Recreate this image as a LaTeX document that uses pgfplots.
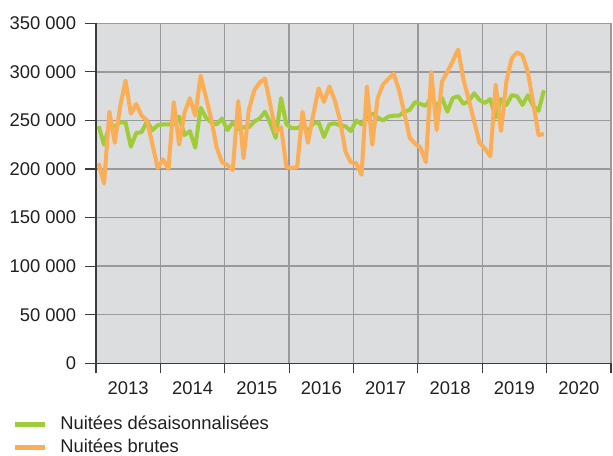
\documentclass[border=0pt]{standalone}
\usepackage{fontspec}
\setmainfont{Liberation Sans}
\usepackage{pgfplots}
\usepackage{pgfplotstable}
\pgfplotsset{compat=1.18}
\definecolor{bg}{HTML}{DCDDDF}
\definecolor{gridc}{HTML}{9A9A9A}
\definecolor{axc}{HTML}{3C3C3C}
\definecolor{gr}{HTML}{A0CC3A}
\definecolor{orc}{HTML}{FBAE55}
\definecolor{txt}{HTML}{231F20}

\pgfplotstableread{
i g o
0 244000 206000
1 225000 185000
2 245000 259000
3 244000 227000
4 248000 264000
5 248000 291000
6 223000 257000
7 237000 267000
8 238000 255000
9 249000 250000
10 240000 226000
11 245000 201000
12 246000 210000
13 246000 200000
14 246000 269000
15 254000 225000
16 235000 258000
17 239000 273000
18 222000 255000
19 263000 296000
20 253000 274000
21 248000 251000
22 246000 222000
23 252000 207000
24 240000 204000
25 248000 199000
26 241000 270000
27 243000 211000
28 243000 261000
29 249000 281000
30 252000 289000
31 259000 293000
32 247000 266000
33 232000 238000
34 273000 243000
35 246000 202000
36 242000 201000
37 242000 202000
38 245000 259000
39 239000 227000
40 247000 256000
41 248000 283000
42 233000 269000
43 246000 285000
44 247000 271000
45 245000 250000
46 244000 218000
47 239000 207000
48 250000 206000
49 246000 194000
50 254000 285000
51 257000 225000
52 253000 273000
53 250000 287000
54 254000 293000
55 255000 298000
56 255000 281000
57 259000 257000
58 261000 232000
59 269000 226000
60 267000 222000
61 265000 207000
62 274000 300000
63 264000 240000
64 273000 290000
65 259000 300000
66 273000 311000
67 275000 323000
68 267000 292000
69 270000 271000
70 278000 249000
71 271000 227000
72 268000 221000
73 272000 213000
74 253000 287000
75 272000 239000
76 266000 290000
77 276000 314000
78 275000 320000
79 266000 317000
80 276000 300000
81 265000 268000
82 260000 235000
83 281000 236000
}\datatable

\begin{document}
\fontsize{9.2pt}{11pt}\selectfont
\begin{tikzpicture}
\begin{axis}[
  at={(0,0)}, anchor=south west,
  scale only axis, width=257.5pt, height=170pt,
  xmin=-0.5, xmax=95.5, ymin=0, ymax=350000,
  scaled y ticks=false,
  axis background/.style={fill=bg},
  axis x line=bottom, axis y line=left,
  axis line style={-, draw=axc, line width=0.8pt},
  tick align=outside,
  xtick={5.5,17.5,...,89.5},
  xticklabels={2013,2014,2015,2016,2017,2018,2019,2020},
  major x tick style={draw=none},
  minor xtick={-0.5,11.5,...,95.5},
  minor tick length=5pt,
  minor x tick style={draw=axc, line width=0.6pt},
  xminorgrids,
  minor x grid style={draw=gridc, line width=0.7pt},
  ytick={0,50000,...,350000},
  yticklabels={0,50 000,100 000,150 000,200 000,250 000,300 000,350 000},
  major tick length=5.5pt,
  y tick style={draw=axc, line width=0.6pt},
  ymajorgrids,
  major y grid style={draw=gridc, line width=0.7pt},
  tick label style={text=txt, font=\fontsize{9.2pt}{11pt}\selectfont},
  xticklabel style={yshift=-0.5pt},
  yticklabel style={xshift=-1.2pt},
  legend style={at={(axis description cs:-0.175,-0.13)}, anchor=north west,
    draw=none, fill=none, font=\fontsize{9.2pt}{11pt}\selectfont, text=txt,
    row sep=-0.6pt, legend cell align=left,
    /tikz/every odd column/.append style={column sep=4.5pt}},
  legend image code/.code={\draw[#1, line width=2.5pt] (0pt,0pt) -- (15pt,0pt);},
]
\addplot[gr, line width=2pt, line join=round] table[x=i, y=g] {\datatable};
\addlegendentry{Nuitées désaisonnalisées}
\addplot[orc, line width=2pt, line join=round] table[x=i, y=o] {\datatable};
\addlegendentry{Nuitées brutes}
\end{axis}
\pgfresetboundingbox
\useasboundingbox (-48pt,-45.85pt) rectangle (258.5pt,181.65pt);
\end{tikzpicture}
\end{document}
